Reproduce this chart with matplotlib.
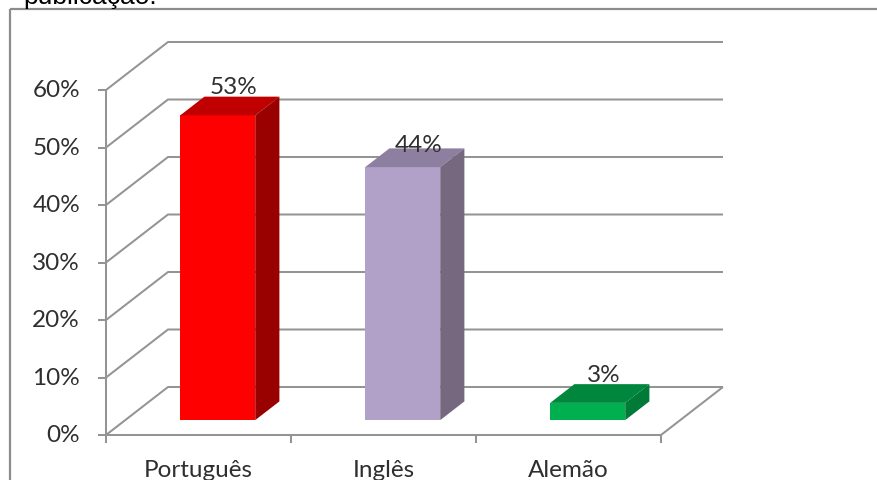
import matplotlib
from matplotlib import pyplot as plt

matplotlib.use('agg')

categories = ["Português", "Inglês", "Alemão"]
values = [53, 44, 3]
value_labels = ["53%", "44%", "3%"]
y_ticks = [0, 10, 20, 30, 40, 50, 60]
y_tick_labels = ["0%", "10%", "20%", "30%", "40%", "50%", "60%"]

front_colors = ["#ff0000", "#b1a0c7", "#00b050"]
top_colors = ["#c00000", "#8d7f9f", "#00863d"]
side_colors = ["#990000", "#75687f", "#007a37"]

GRID = "#949494"
TEXT = "#2f2f2f"
W, H = 877, 481

# one category is 185 px, 10% is 57.5 px, the origin sits at pixel (106, 436)
X_PX = 185.0
Y_PX = 5.75
X0, Y0 = 106.0, 436.0
DEPTH_X = 62 / X_PX
DEPTH_Y = 48 / Y_PX
BAR_W = 75 / X_PX
BAR_DEPTH = 0.39
BAR_OFFSET = 0.31
LABEL_GAP = [4, -3, 3]  # px from the bar's back edge up to the label baseline
FONT_SIZE = 17.5

fig = plt.figure(figsize=(W / 100, H / 100), dpi=100)
ax = fig.add_axes([0, 0, 1, 1])
ax.set_xlim(-X0 / X_PX, (W - X0) / X_PX)
ax.set_ylim(-(H - Y0) / Y_PX, Y0 / Y_PX)
ax.axis("off")

n = len(categories)
line = dict(color=GRID, lw=1.45, solid_capstyle="butt", zorder=1)

# walls and floor
for t in y_ticks:
    ax.plot([0, DEPTH_X, n + DEPTH_X], [t, t + DEPTH_Y, t + DEPTH_Y], **line)
    ax.plot([-8 / X_PX, 0], [t, t], **line)
ax.plot([0, 0], [0, y_ticks[-1]], **line)
ax.plot([0, n, n + DEPTH_X], [0, 0, DEPTH_Y], **line)
for i in range(n + 1):
    ax.plot([i, i], [0, -8 / Y_PX], **line)

# bars, faked 3d with three faces
for i, v in enumerate(values):
    x0 = i + 0.5 - BAR_W / 2 + BAR_OFFSET * DEPTH_X
    x1 = x0 + BAR_W
    y0 = BAR_OFFSET * DEPTH_Y
    y1 = y0 + v
    dx = BAR_DEPTH * DEPTH_X
    dy = BAR_DEPTH * DEPTH_Y
    ax.fill([x0, x1, x1, x0], [y0, y0, y1, y1], color=front_colors[i], lw=0, zorder=3)
    ax.fill([x0, x1, x1 + dx, x0 + dx], [y1, y1, y1 + dy, y1 + dy], color=top_colors[i], lw=0, zorder=3)
    ax.fill([x1, x1 + dx, x1 + dx, x1], [y0, y0 + dy, y1 + dy, y1], color=side_colors[i], lw=0, zorder=3)
    ax.text(x0 + BAR_W / 2 + dx / 2 + 4 / X_PX, y1 + dy + LABEL_GAP[i] / Y_PX, value_labels[i],
            family="Lato", fontsize=FONT_SIZE, color=TEXT, ha="center", va="baseline", zorder=4)

for t, label in zip(y_ticks, y_tick_labels):
    ax.text(-26 / X_PX, t, label, family="Lato", fontsize=FONT_SIZE, color=TEXT, ha="right", va="center")

for i, label in enumerate(categories):
    ax.text(i + 0.5, -41 / Y_PX, label, family="Lato", fontsize=FONT_SIZE, color=TEXT, ha="center", va="baseline")

# frame of the pasted chart and the clipped caption above it
frame = dict(color="#8c8c8c", lw=1.6, solid_capstyle="butt", transform=fig.transFigure)
ax.plot([10 / W, 10 / W], [0, 1 - 10 / H], **frame)
ax.plot([10 / W, 1], [1 - 10 / H, 1 - 10 / H], **frame)
fig.text(23 / W, 1 - 4 / H, "publicação.", family="Liberation Sans", fontsize=19, color="black", va="baseline")

fig.savefig("out.png", dpi=100)
plt.close(fig)
